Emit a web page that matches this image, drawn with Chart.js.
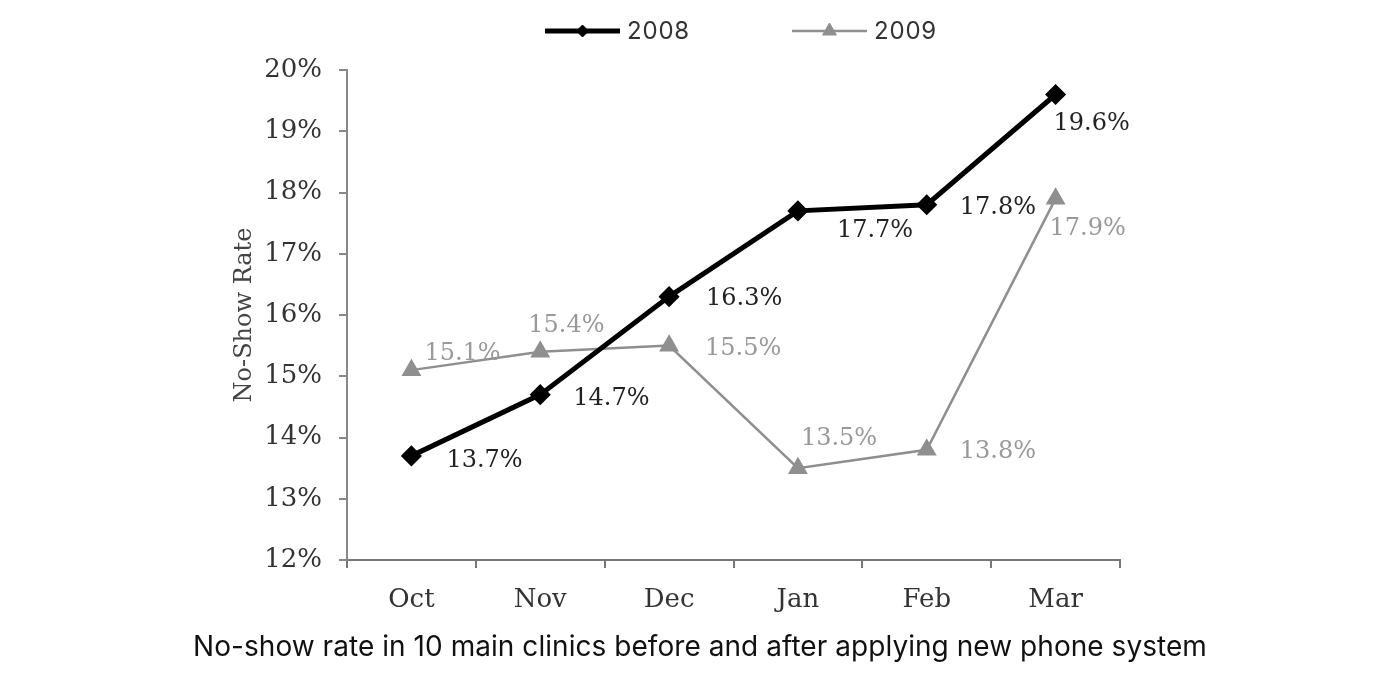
<!DOCTYPE html>
<html>
<head>
<meta charset="utf-8">
<script src="https://cdn.jsdelivr.net/npm/chart.js@4/dist/chart.umd.min.js"></script>
<style>
    body { margin: 0; background: #fff; }
    #wrap { width: 1400px; height: 700px; }
</style>
</head>
<body>
<div id="wrap"><canvas id="chart" width="1400" height="700"></canvas></div>
<script>
// 데이터
const months = ['Oct', 'Nov', 'Dec', 'Jan', 'Feb', 'Mar'];
const rate2008 = [13.7, 14.7, 16.3, 17.7, 17.8, 19.6];
const rate2009 = [15.1, 15.4, 15.5, 13.5, 13.8, 17.9];
const yTicks = [12, 13, 14, 15, 16, 17, 18, 19, 20];
const captionText = 'No-show rate in 10 main clinics before and after applying new phone system';

const SERIF = '"DejaVu Serif", "Liberation Serif", serif';
const SANS = 'Inter, "Noto Sans", sans-serif';

// 값 라벨 (점 기준 오프셋)
const labelPlugin = {
    id: 'valueLabels',
    afterDatasetsDraw(chart, args, opts) {
        const ctx = chart.ctx;
        ctx.save();
        ctx.font = '24px ' + SERIF;
        ctx.textAlign = 'left';
        ctx.textBaseline = 'middle';
        chart.data.datasets.forEach((ds, di) => {
            const meta = chart.getDatasetMeta(di);
            const offs = opts.offsets[di];
            ctx.fillStyle = opts.colors[di];
            meta.data.forEach((pt, i) => {
                ctx.fillText(ds.data[i].toFixed(1) + '%', pt.x + offs[i][0], pt.y + offs[i][1]);
            });
        });
        ctx.restore();
    }
};

// 범례 (선 + 마커) + 하단 캡션
const legendPlugin = {
    id: 'lineLegend',
    afterDraw(chart, args, opts) {
        const ctx = chart.ctx;
        ctx.save();
        chart.data.datasets.forEach((ds, di) => {
            const x = opts.starts[di];
            const y = opts.y;
            ctx.strokeStyle = ds.borderColor;
            ctx.lineWidth = ds.borderWidth;
            ctx.beginPath();
            ctx.moveTo(x, y);
            ctx.lineTo(x + opts.lineLen, y);
            ctx.stroke();
            ctx.fillStyle = ds.pointBackgroundColor;
            ctx.strokeStyle = ds.pointBorderColor;
            ctx.lineWidth = 1;
            Chart.helpers.drawPoint(ctx, {
                pointStyle: ds.pointStyle,
                radius: ds.pointRadius - 1,
                borderWidth: 1
            }, x + opts.lineLen / 2, y);
            ctx.fillStyle = '#333';
            ctx.font = '24px ' + SANS;
            ctx.letterSpacing = '0.8px';
            ctx.textAlign = 'left';
            ctx.textBaseline = 'middle';
            ctx.fillText(ds.label, x + opts.lineLen + 7, y + 1);
        });

        // 캡션
        ctx.fillStyle = '#111';
        ctx.font = '28px ' + SANS;
        ctx.letterSpacing = '0.05px';
        ctx.textAlign = 'center';
        ctx.textBaseline = 'middle';
        ctx.fillText(captionText, opts.captionX, opts.captionY);
        ctx.restore();
    }
};

new Chart(document.getElementById('chart'), {
    type: 'line',
    data: {
        labels: months,
        datasets: [
            {
                label: '2008',
                data: rate2008,
                borderColor: '#000',
                borderWidth: 5,
                pointStyle: 'rectRot',
                pointRadius: 7,
                pointBackgroundColor: '#000',
                pointBorderColor: '#000',
                tension: 0
            },
            {
                label: '2009',
                data: rate2009,
                borderColor: '#8f8f8f',
                borderWidth: 2.5,
                pointStyle: 'triangle',
                pointRadius: 9,
                pointBackgroundColor: '#8f8f8f',
                pointBorderColor: '#8f8f8f',
                tension: 0
            }
        ]
    },
    options: {
        responsive: false,
        animation: false,
        clip: false,
        layout: {
            padding: { left: 220, right: 280, top: 70, bottom: 70 }
        },
        plugins: {
            legend: { display: false },
            tooltip: { enabled: false },
            title: { display: false },
            valueLabels: {
                colors: ['#222', '#999'],
                offsets: [
                    [[35, 5], [33, 4], [37, 2], [39, 20], [33, 3], [-2, 29]],
                    [[13, -16], [-12, -26], [36, 3], [3, -29], [33, 2], [-6, 30]]
                ]
            },
            lineLegend: {
                y: 31,
                starts: [545, 792],
                lineLen: 75,
                captionX: 700,
                captionY: 648
            }
        },
        scales: {
            x: {
                offset: true,
                afterFit(scale) { scale.height = 70; },
                grid: {
                    offset: true,
                    drawOnChartArea: false,
                    drawTicks: true,
                    tickLength: 8,
                    color: '#777',
                    lineWidth: 2
                },
                border: { display: true, color: '#777', width: 2 },
                ticks: {
                    color: '#333',
                    padding: 17,
                    font: { family: SERIF, size: 26 }
                }
            },
            y: {
                min: 12,
                max: 20,
                afterFit(scale) { scale.width = 127; },
                afterBuildTicks(scale) {
                    scale.ticks = yTicks.map(v => ({ value: v }));
                },
                grid: {
                    drawOnChartArea: false,
                    drawTicks: true,
                    tickLength: 8,
                    color: '#888',
                    lineWidth: 2
                },
                border: { display: true, color: '#888', width: 2 },
                ticks: {
                    color: '#333',
                    padding: 17,
                    font: { family: SERIF, size: 26 },
                    callback: v => v + '%'
                },
                title: {
                    display: true,
                    text: 'No-Show Rate',
                    color: '#444',
                    font: { family: SERIF, size: 24 },
                    padding: { top: 10, bottom: 0 }
                }
            }
        }
    },
    plugins: [labelPlugin, legendPlugin]
});
</script>
</body>
</html>
